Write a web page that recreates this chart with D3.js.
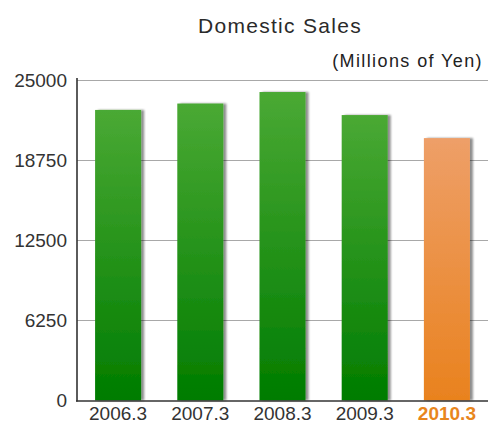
<!DOCTYPE html>
<html><head><meta charset="utf-8">
<script src="https://cdn.jsdelivr.net/npm/d3@7"></script>
<style>body{margin:0;background:#fff}svg{display:block}</style>
</head><body>
<script>
const categories = ["2006.3","2007.3","2008.3","2009.3","2010.3"];
const values = [22700, 23200, 24100, 22300, 20500];
const highlight = [false,false,false,false,true];
const tickValues = [0, 6250, 12500, 18750, 25000];

const W = 488, H = 429;
const svg = d3.select("body").append("svg").attr("width", W).attr("height", H);
const defs = svg.append("defs");
const gG = defs.append("linearGradient").attr("id","gGreen").attr("x1",0).attr("y1",0).attr("x2",0).attr("y2",1);
gG.append("stop").attr("offset","0%").attr("stop-color","#4aa934");
gG.append("stop").attr("offset","100%").attr("stop-color","#007c00");
const gO = defs.append("linearGradient").attr("id","gOrange").attr("x1",0).attr("y1",0).attr("x2",0).attr("y2",1);
gO.append("stop").attr("offset","0%").attr("stop-color","#ee9f68");
gO.append("stop").attr("offset","100%").attr("stop-color","#e9821e");
const f = defs.append("filter").attr("id","shadow").attr("x","-10%").attr("y","-10%").attr("width","130%").attr("height","130%");
f.append("feGaussianBlur").attr("in","SourceAlpha").attr("stdDeviation",1.2).attr("result","b");
f.append("feOffset").attr("in","b").attr("dx",2.5).attr("dy",0).attr("result","o");
f.append("feComponentTransfer").attr("in","o").attr("result","oa").append("feFuncA").attr("type","linear").attr("slope",0.45);
const fm = f.append("feMerge");
fm.append("feMergeNode").attr("in","oa");
fm.append("feMergeNode").attr("in","SourceGraphic");

const x = d3.scaleBand().domain(categories).range([77, 488]).paddingInner(0.44).paddingOuter(0.22);
const y = d3.scaleLinear().domain([0, 25000]).range([400.5, 80.5]);

// gridlines
svg.append("g").selectAll("line").data(tickValues.filter(d=>d>0)).join("line")
  .attr("x1", 77).attr("x2", 488)
  .attr("y1", d=>y(d)).attr("y2", d=>y(d))
  .attr("stroke", "#a8a8a8").attr("stroke-width", 1);

// bars
svg.append("g").selectAll("rect").data(categories).join("rect")
  .attr("x", d=>x(d)).attr("width", x.bandwidth())
  .attr("y", (d,i)=>y(values[i])).attr("height", (d,i)=>y(0)-y(values[i]))
  .attr("fill", (d,i)=>highlight[i] ? "url(#gOrange)" : "url(#gGreen)")
  .attr("filter","url(#shadow)");

// axes lines
svg.append("line").attr("x1",77).attr("x2",77).attr("y1",78).attr("y2",401.5).attr("stroke","#333").attr("stroke-width",1.6);
svg.append("line").attr("x1",76).attr("x2",488).attr("y1",401).attr("y2",401).attr("stroke","#333").attr("stroke-width",1.6);

// y axis labels
const yAxis = d3.axisLeft(y).tickValues(tickValues).tickSize(0).tickPadding(10).tickFormat(d3.format("d"));
const gy = svg.append("g").attr("transform","translate(77,0)").call(yAxis);
gy.select(".domain").remove();
gy.selectAll("text").attr("font-family","Liberation Sans, Arial, sans-serif").attr("font-size",19).attr("fill","#333");

// x axis labels
const xAxis = d3.axisBottom(x).tickSize(0).tickPadding(6);
const gx = svg.append("g").attr("transform","translate(0,401)").call(xAxis);
gx.select(".domain").remove();
gx.selectAll("text").attr("font-family","Liberation Sans, Arial, sans-serif").attr("font-size",19)
  .attr("fill",(d,i)=>highlight[i] ? "#e8861c" : "#333")
  .attr("font-weight",(d,i)=>highlight[i] ? "bold" : "normal");

// titles
svg.append("text").attr("x",280).attr("y",33).attr("text-anchor","middle")
  .attr("font-family","Liberation Sans, Arial, sans-serif").attr("font-size",21).attr("letter-spacing",1.3)
  .attr("fill","#2a2a2a").text("Domestic Sales");
svg.append("text").attr("x",483).attr("y",67).attr("text-anchor","end")
  .attr("font-family","Liberation Sans, Arial, sans-serif").attr("font-size",18).attr("letter-spacing",1.4)
  .attr("fill","#222").text("(Millions of Yen)");
</script>
</body></html>
